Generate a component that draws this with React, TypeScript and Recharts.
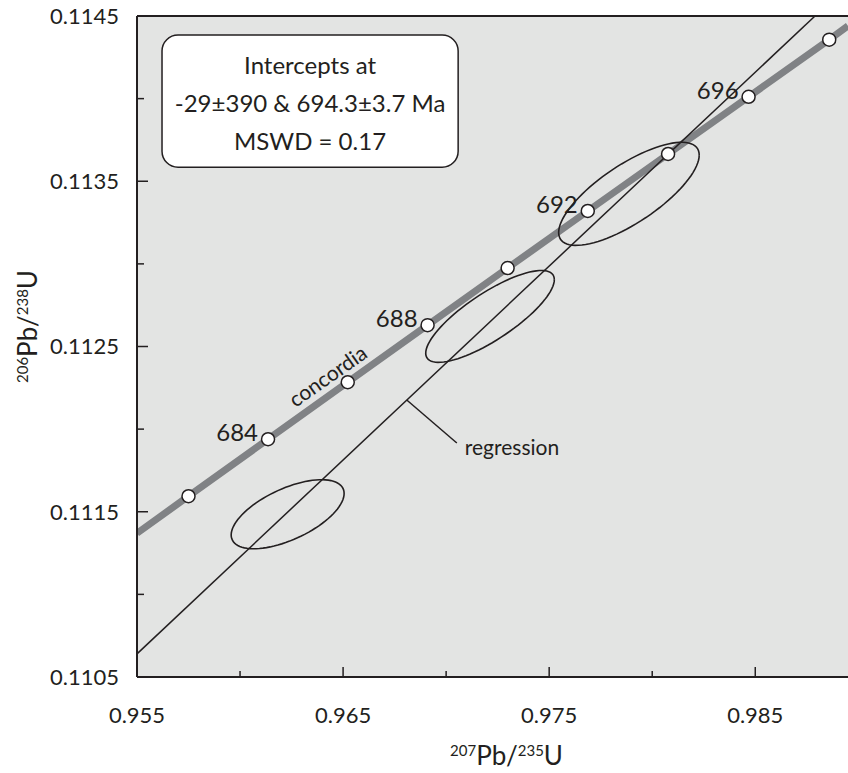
import React from 'react';
import {
  ComposedChart,
  XAxis,
  YAxis,
  Line,
  Scatter,
  CartesianGrid,
  ReferenceLine,
  ReferenceArea,
  ReferenceDot,
} from 'recharts';

const FONT = 'Lato, "Noto Sans", sans-serif';
const INK = '#231f20';
const GREY = '#808285';

// concordia points, 2 Ma apart
const ages = [682, 684, 686, 688, 690, 692, 694, 696, 698];
const concX = [0.957499, 0.961359, 0.965226, 0.9691, 0.972983, 0.976873, 0.98077, 0.984676, 0.988589];
const concY = [0.111594, 0.111939, 0.112284, 0.112629, 0.112975, 0.11332, 0.113665, 0.114011, 0.114357];
const labelledAges = [684, 688, 692, 696];

// where the concordia band leaves the frame
const concEdgeX = [0.955, 0.9895];
const concEdgeY = [0.11137, 0.11444];

// regression line ends
const regX = [0.955, 0.9879];
const regY = [0.11064, 0.1145];

// error ellipses: centre, half extents, correlation
const ellX = [0.96231, 0.97213, 0.97887];
const ellY = [0.111485, 0.112682, 0.113424];
const ellSx = [0.00274, 0.00312, 0.00341];
const ellSy = [0.000209, 0.000278, 0.000312];
const ellRho = [0.6, 0.8, 0.75];

const xTicks = [0.955, 0.96, 0.965, 0.97, 0.975, 0.98, 0.985];
const xMajor = [0.955, 0.965, 0.975, 0.985];
const yTicks = [0.1105, 0.111, 0.1115, 0.112, 0.1125, 0.113, 0.1135, 0.114, 0.1145];
const yMajor = [0.1105, 0.1115, 0.1125, 0.1135, 0.1145];

const boxLines = ['Intercepts at', '-29±390 & 694.3±3.7 Ma', 'MSWD = 0.17'];

const concPoints = ages.map((age, i) => ({ age, x: concX[i], y: concY[i] }));
const concLine = [
  { x: concEdgeX[0], y: concEdgeY[0] },
  ...concPoints,
  { x: concEdgeX[1], y: concEdgeY[1] },
];
const regLine = regX.map((x, i) => ({ x, y: regY[i] }));

function ellipse(i: number) {
  const pts = [];
  const r = ellRho[i];
  for (let k = 0; k <= 90; k++) {
    const t = (k / 90) * 2 * Math.PI;
    pts.push({
      x: ellX[i] + ellSx[i] * Math.cos(t),
      y: ellY[i] + ellSy[i] * (r * Math.cos(t) + Math.sqrt(1 - r * r) * Math.sin(t)),
    });
  }
  return pts;
}

const XTick = (p: any) => {
  const v = p.payload.value;
  const major = xMajor.includes(v);
  return (
    <g>
      <line x1={p.x} x2={p.x} y1={p.y} y2={p.y - (major ? 10 : 6)} stroke={INK} strokeWidth={1.5} />
      {major && (
        <text x={p.x} y={p.y + 46} textAnchor="middle" fontSize={22} fill={INK} fontFamily={FONT}>
          {v.toFixed(3)}
        </text>
      )}
    </g>
  );
};

const YTick = (p: any) => {
  const v = p.payload.value;
  const major = yMajor.includes(v);
  return (
    <g>
      <line x1={p.x} x2={p.x + (major ? 11 : 7)} y1={p.y} y2={p.y} stroke={INK} strokeWidth={1.5} />
      {major && (
        <text x={p.x - 18} y={p.y} dy="0.36em" textAnchor="end" fontSize={22} fill={INK} fontFamily={FONT}>
          {v.toFixed(4)}
        </text>
      )}
    </g>
  );
};

const IsoTitle = ({ x, y, a, b, rotate }: any) => (
  <text
    x={x}
    y={y}
    textAnchor="middle"
    fill={INK}
    fontFamily={FONT}
    transform={rotate ? `rotate(-90 ${x} ${y})` : undefined}
  >
    <tspan fontSize={15} dy={-9}>{a}</tspan>
    <tspan fontSize={26} dy={9}>Pb/</tspan>
    <tspan fontSize={15} dy={-9}>{b}</tspan>
    <tspan fontSize={26} dy={9}>U</tspan>
  </text>
);

const PointShape = (p: any) => (
  <g>
    <circle cx={p.cx} cy={p.cy} r={6.5} fill="#fff" stroke={INK} strokeWidth={1.5} />
    {labelledAges.includes(p.payload.age) && (
      <text x={p.cx - 10} y={p.cy + 2} textAnchor="end" fontSize={24} fill={INK} fontFamily={FONT}>
        {p.payload.age}
      </text>
    )}
  </g>
);

export default function App() {
  return (
    <div style={{ position: 'absolute', left: 0, top: 0, background: '#fff' }}>
      <ComposedChart width={848} height={773} margin={{ top: 16, right: 0, bottom: 0, left: 0 }}>
        <CartesianGrid horizontal={false} vertical={false} fill="#e3e4e3" fillOpacity={1} />
        <XAxis
          type="number"
          dataKey="x"
          domain={[0.955, 0.9895]}
          ticks={xTicks}
          interval={0}
          allowDataOverflow
          height={96}
          tickSize={0}
          tickMargin={0}
          tickLine={false}
          tick={<XTick />}
          axisLine={{ stroke: INK, strokeWidth: 2 }}
          label={(p: any) => {
            const vb = p.viewBox || { x: 137, y: 677, width: 711 };
            return <IsoTitle x={vb.x + vb.width / 2 + 14} y={vb.y + 88} a="207" b="235" />;
          }}
        />
        <YAxis
          type="number"
          dataKey="y"
          domain={[0.1105, 0.1145]}
          ticks={yTicks}
          interval={0}
          allowDataOverflow
          width={137}
          tickSize={0}
          tickMargin={0}
          tickLine={false}
          tick={<YTick />}
          axisLine={{ stroke: INK, strokeWidth: 2 }}
          label={(p: any) => {
            const vb = p.viewBox || { x: 0, y: 16, height: 661 };
            return <IsoTitle x={vb.x + 37} y={vb.y + vb.height / 2 - 20} a="206" b="238" rotate />;
          }}
        />
        <Line data={concLine} dataKey="y" stroke={GREY} strokeWidth={7} dot={false} isAnimationActive={false} />
        <Line data={regLine} dataKey="y" stroke={INK} strokeWidth={1.5} dot={false} isAnimationActive={false} />
        {ellX.map((_, i) => (
          <Line
            key={i}
            data={ellipse(i)}
            dataKey="y"
            stroke={INK}
            strokeWidth={1.6}
            dot={false}
            isAnimationActive={false}
          />
        ))}
        <ReferenceLine
          segment={[
            { x: 0.96809, y: 0.112176 },
            { x: 0.970519, y: 0.111916 },
          ]}
          stroke={INK}
          strokeWidth={1.5}
        />
        <Scatter data={concPoints} shape={<PointShape />} isAnimationActive={false} />
        <ReferenceDot
          x={0.964296}
          y={0.112315}
          r={0}
          shape={(p: any) => (
            <text
              x={p.cx}
              y={p.cy}
              textAnchor="middle"
              dy="0.3em"
              fontSize={21}
              fill={INK}
              fontFamily={FONT}
              transform={`rotate(-35 ${p.cx} ${p.cy})`}
            >
              concordia
            </text>
          )}
        />
        <ReferenceDot
          x={0.970519}
          y={0.111916}
          r={0}
          shape={(p: any) => (
            <text x={p.cx + 8} y={p.cy + 12} fontSize={21} fill={INK} fontFamily={FONT}>
              regression
            </text>
          )}
        />
        <ReferenceArea
          x1={0.956214}
          x2={0.970583}
          y1={0.113585}
          y2={0.114385}
          shape={(p: any) => (
            <g>
              <rect
                x={p.x}
                y={p.y}
                width={p.width}
                height={p.height}
                rx={16}
                fill="#fff"
                stroke={INK}
                strokeWidth={1.5}
              />
              {boxLines.map((t, i) => (
                <text
                  key={i}
                  x={p.x + p.width / 2}
                  y={p.y + 39 + i * 38}
                  textAnchor="middle"
                  fontSize={24}
                  fill={INK}
                  fontFamily={FONT}
                >
                  {t}
                </text>
              ))}
            </g>
          )}
        />
        <ReferenceLine y={0.1145} stroke={INK} strokeWidth={2} />
      </ComposedChart>
    </div>
  );
}
